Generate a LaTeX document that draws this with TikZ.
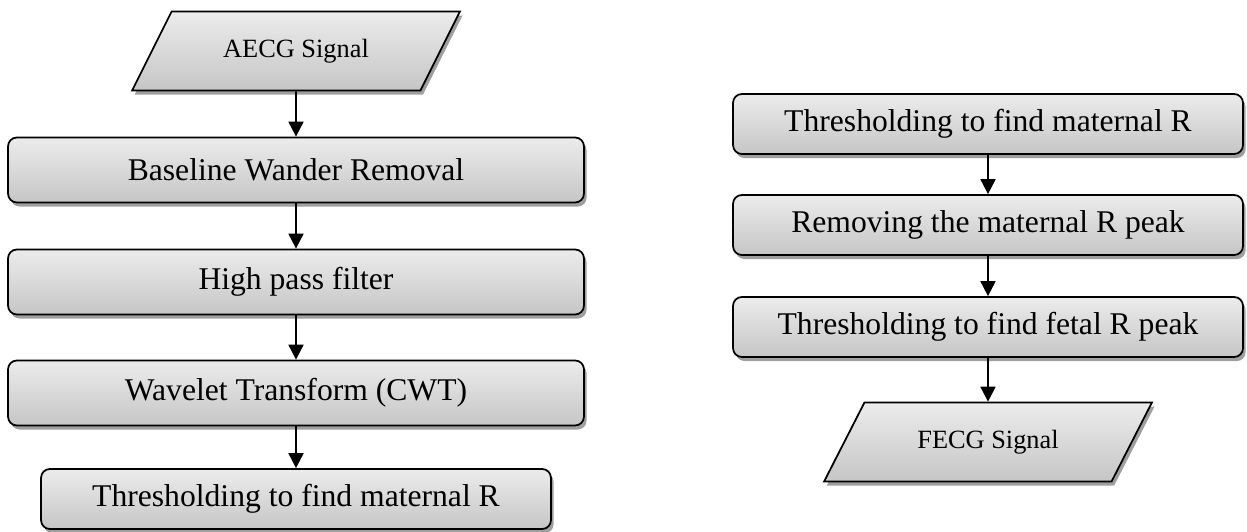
\documentclass[tikz,border=0pt]{standalone}
\usepackage{fontspec}
\setmainfont{Liberation Serif}
\usetikzlibrary{shapes.geometric,shadows,arrows.meta}

\tikzset{
  stepbase/.style={draw=black, line width=1pt, top color=gray!15, bottom color=gray!45,
    drop shadow={shadow xshift=1.5pt, shadow yshift=-2.3pt, fill=gray!75, opacity=1}},
  procbox/.style={stepbase, rounded corners=5pt, minimum width=11.52cm, minimum height=1.3cm,
    font=\fontsize{18}{20}\selectfont},
  shortbox/.style={procbox, minimum width=10.2cm, minimum height=1.2cm},
  signalbox/.style={stepbase, trapezium, trapezium left angle=55, trapezium right angle=125,
    trapezium stretches=true, minimum width=6.56cm, minimum height=1.58cm,
    font=\fontsize{15}{17}\selectfont},
  flowarrow/.style={line width=1.1pt, -{Triangle[width=8.5pt,length=8.5pt]}}
}

\begin{document}
\begin{tikzpicture}[x=0.02cm, y=-0.02cm]
  \useasboundingbox (0,0) rectangle (1247,531);

  % left column: preprocessing of the abdominal signal
  \node[signalbox] (aecg) at (296,51) {AECG Signal};
  \node[procbox] (bwr) at (296,170) {Baseline Wander Removal};
  \node[procbox] (hpf) at (296,282) {High pass filter};
  \node[procbox] (cwt) at (296,393) {Wavelet Transform (CWT)};
  \node[shortbox] (thrl) at (296,499) {Thresholding to find maternal R};

  \draw[flowarrow] (aecg.south) -- (bwr.north);
  \draw[flowarrow] (bwr.south) -- (hpf.north);
  \draw[flowarrow] (hpf.south) -- (cwt.north);
  \draw[flowarrow] (cwt.south) -- (thrl.north);

  % right column: extraction of the fetal signal
  \node[shortbox] (thrr) at (988,124) {Thresholding to find maternal R};
  \node[shortbox] (rem) at (988,225) {Removing the maternal R peak};
  \node[shortbox] (thf) at (988,327) {Thresholding to find fetal R peak};
  \node[signalbox] (fecg) at (988,442) {FECG Signal};

  \draw[flowarrow] (thrr.south) -- (rem.north);
  \draw[flowarrow] (rem.south) -- (thf.north);
  \draw[flowarrow] (thf.south) -- (fecg.north);
\end{tikzpicture}
\end{document}
